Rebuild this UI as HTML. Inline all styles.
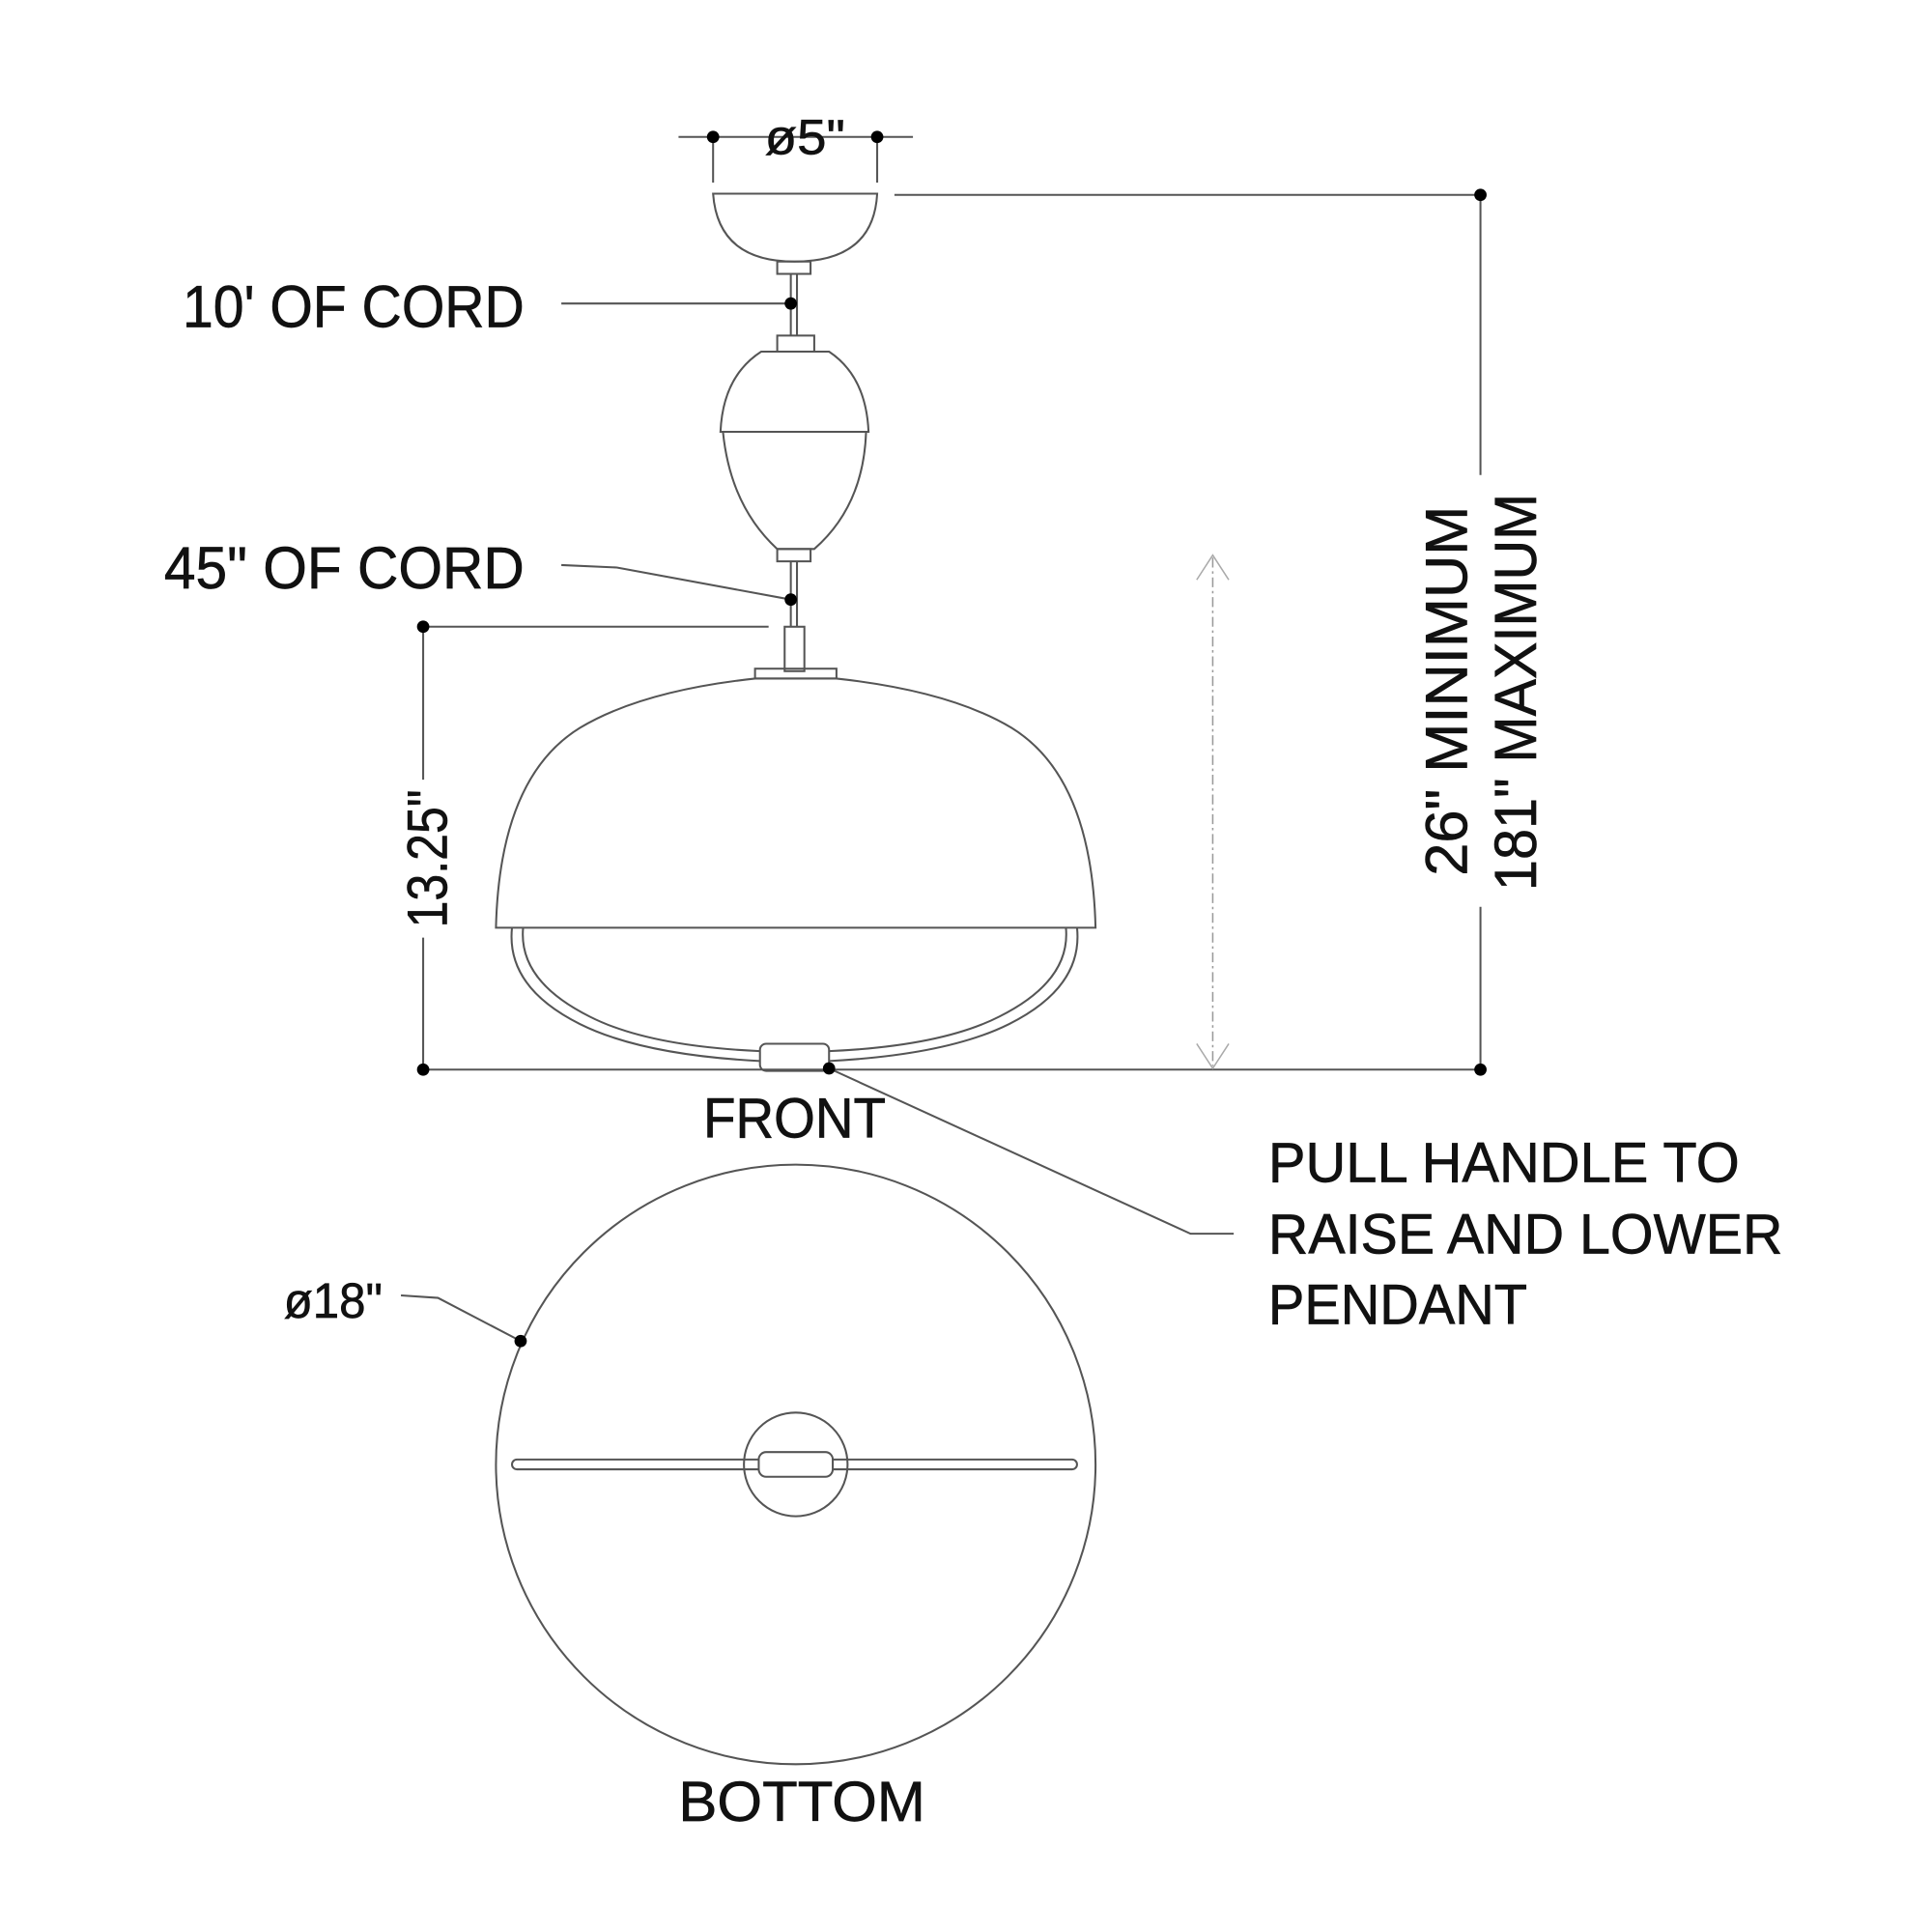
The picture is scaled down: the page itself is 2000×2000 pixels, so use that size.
<!DOCTYPE html>
<html><head><meta charset="utf-8"><style>
html,body{margin:0;padding:0;background:#fff}
svg{display:block}
text{font-family:"Liberation Sans",sans-serif;fill:#111;stroke:#111;stroke-width:0.5}
</style></head><body>
<svg width="2000" height="2000" viewBox="0 0 1566 1566" xmlns="http://www.w3.org/2000/svg">
<g fill="none" stroke="#555" stroke-width="1.6">
<line x1="550" y1="111" x2="740" y2="111"/>
<line x1="578" y1="111" x2="578" y2="148"/>
<line x1="711" y1="111" x2="711" y2="148"/>
<path d="M578 157 L711 157 Q708 212 644 212 Q582 212 578 157 Z"/>
<rect x="630" y="212" width="27" height="10"/>
<line x1="725" y1="158" x2="1200" y2="158"/>
<line x1="1200" y1="158" x2="1200" y2="385"/>
<line x1="1200" y1="735" x2="1200" y2="867"/>
<line x1="641" y1="222" x2="641" y2="272"/>
<line x1="646" y1="222" x2="646" y2="272"/>
<line x1="455" y1="246" x2="641" y2="246"/>
<rect x="630" y="272" width="30" height="13"/>
<path d="M617 285 L672 285 Q702 305 704 350 L584 350 Q586 305 617 285 Z"/>
<path d="M586 350 L702 350 Q700 410 660 445 L630 445 Q592 410 586 350 Z"/>
<rect x="630" y="445" width="27" height="10"/>
<line x1="641" y1="455" x2="641" y2="508"/>
<line x1="646" y1="455" x2="646" y2="508"/>
<path d="M455 458 L500 460 L641 486"/>
<line x1="343" y1="508" x2="623" y2="508"/>
<line x1="343" y1="508" x2="343" y2="632"/>
<line x1="343" y1="760" x2="343" y2="867"/>
<rect x="636" y="508" width="16" height="36"/>
<rect x="612" y="542" width="66" height="8"/>
<path d="M612 550 Q520 560 470 590 Q405 630 402 752 L888 752 Q885 630 820 590 Q770 560 678 550 Z"/>
<path d="M415 752 Q410 800 470 830 Q520 855 616 860"/>
<path d="M424 752 Q420 795 478 824 Q525 848 616 852"/>
<path d="M873 752 Q878 800 818 830 Q768 855 672 860"/>
<path d="M864 752 Q868 795 810 824 Q763 848 672 852"/>
<rect x="616" y="846" width="56" height="22" rx="5"/>
<line x1="343" y1="867" x2="1200" y2="867"/>
<path d="M672 866 L965 1000 L1000 1000"/>
<g stroke="#999" stroke-width="1.2" stroke-dasharray="8 3 2 3">
<line x1="983" y1="452" x2="983" y2="864"/>
</g>
<path d="M970 470 L983 450 L996 470 M970 846 L983 866 L996 846" stroke="#aaa" stroke-width="1.2"/>
<circle cx="645" cy="1187" r="243"/>
<circle cx="645" cy="1187" r="42"/>
<rect x="415" y="1183" width="458" height="8" rx="4"/>
<rect x="615" y="1177" width="60" height="20" rx="6" fill="#fff"/>
<path d="M325 1050 L355 1052 L422 1087"/>
</g>
<g fill="#000">
<circle cx="578" cy="111" r="5"/><circle cx="711" cy="111" r="5"/>
<circle cx="1200" cy="158" r="5"/><circle cx="1200" cy="867" r="5"/>
<circle cx="641" cy="246" r="5"/><circle cx="641" cy="486" r="5"/>
<circle cx="343" cy="508" r="5"/><circle cx="343" cy="867" r="5"/>
<circle cx="672" cy="866" r="5"/><circle cx="422" cy="1087" r="5"/>
</g>
<text x="620" y="125" font-size="40" textLength="65" lengthAdjust="spacingAndGlyphs">ø5"</text>
<text x="148" y="265" font-size="48" textLength="277" lengthAdjust="spacingAndGlyphs">10' OF CORD</text>
<text x="133" y="477" font-size="48" textLength="292" lengthAdjust="spacingAndGlyphs">45" OF CORD</text>
<text x="570" y="922" font-size="46" textLength="148" lengthAdjust="spacingAndGlyphs">FRONT</text>
<text x="550" y="1476" font-size="46" textLength="200" lengthAdjust="spacingAndGlyphs">BOTTOM</text>
<text x="230" y="1068" font-size="40" textLength="80" lengthAdjust="spacingAndGlyphs">ø18"</text>
<text x="1028" y="958" font-size="46" textLength="382" lengthAdjust="spacingAndGlyphs">PULL HANDLE TO</text>
<text x="1028" y="1016" font-size="46" textLength="417" lengthAdjust="spacingAndGlyphs">RAISE AND LOWER</text>
<text x="1028" y="1073" font-size="46" textLength="210" lengthAdjust="spacingAndGlyphs">PENDANT</text>
<text transform="translate(1189,710) rotate(-90)" font-size="48" textLength="300" lengthAdjust="spacingAndGlyphs">26" MINIMUM</text>
<text transform="translate(1245,722) rotate(-90)" font-size="48" textLength="322" lengthAdjust="spacingAndGlyphs">181" MAXIMUM</text>
<text transform="translate(362,752) rotate(-90)" font-size="46" textLength="112" lengthAdjust="spacingAndGlyphs">13.25"</text>
</svg>
</body></html>
